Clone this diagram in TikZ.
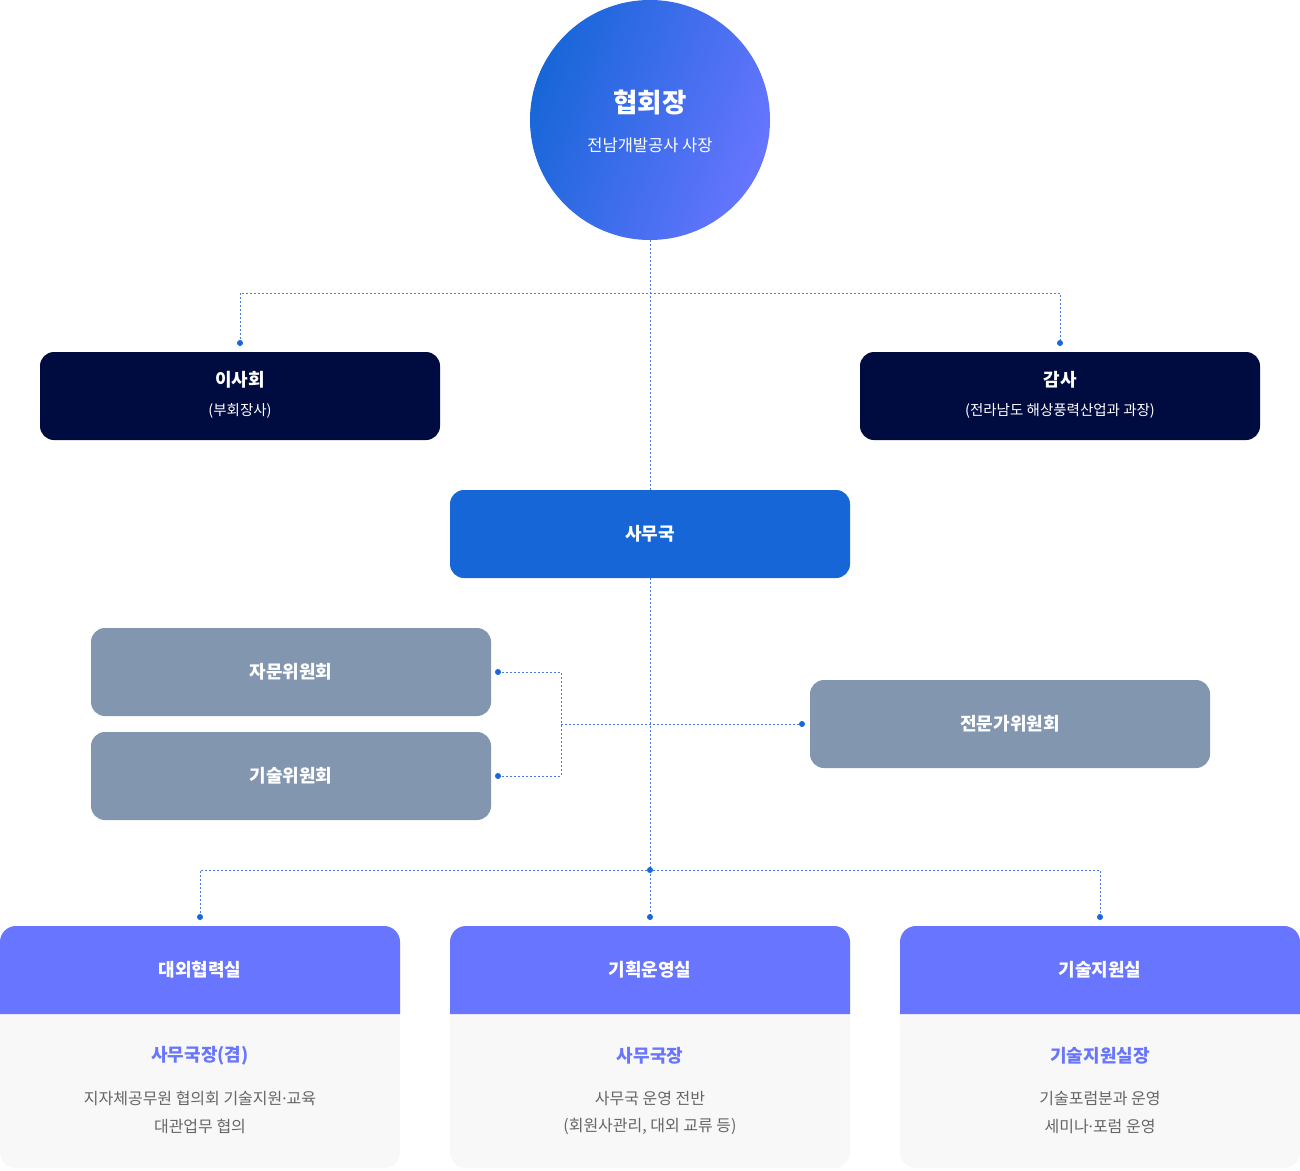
\documentclass[tikz,border=0pt]{standalone}
\usepackage{fontspec}
\setmainfont{Noto Sans CJK KR}
\newfontfamily\latinfont{Noto Sans}
\usepackage{xcolor}

\definecolor{navy}{HTML}{000C40}
\definecolor{royal}{HTML}{1766D8}
\definecolor{grayblue}{HTML}{8396B0}
\definecolor{violet}{HTML}{6775FF}
\definecolor{cardbg}{HTML}{F8F8F8}
\definecolor{linkblue}{HTML}{4A7BE6}
\definecolor{dotblue}{HTML}{1A66DA}
\definecolor{bodygray}{HTML}{666666}

\newcommand{\middot}{{\latinfont ·}}

\begin{document}
\begin{tikzpicture}[x=1pt, y=-1pt,
        box/.style={rectangle, rounded corners=14, minimum width=400, minimum height=88, inner sep=0},
        link/.style={draw=linkblue, line width=1, dash pattern=on 2 off 2},
        tip/.style={fill=dotblue},
        big/.style={font=\fontsize{26.5}{30}\selectfont\bfseries, text=white},
        head/.style={font=\fontsize{18}{22}\selectfont\bfseries},
        small/.style={font=\fontsize{14.5}{18}\selectfont, text=white},
        body/.style={font=\fontsize{16}{20}\selectfont, text=bodygray}]

        \useasboundingbox (0,0) rectangle (1300,1170);
        \fill[white] (0,0) rectangle (1300,1170);

        % president
        \node[circle, minimum size=240, inner sep=0] (pres) at (650,120) {};
        \shade[left color=royal, right color=violet, shading angle=70] (pres.center) circle (120);
        \node[big] (presName) at (650,102) {협회장};
        \node[small, font=\fontsize{16.5}{20}\selectfont] (presSub) at (650,145) {전남개발공사 사장};

        % board and audit
        \node[box, fill=navy] (board) at (240,396) {};
        \node[head, text=white] (boardName) at (240,380) {이사회};
        \node[small] (boardSub) at (240,411) {(부회장사)};

        \node[box, fill=navy] (audit) at (1060,396) {};
        \node[head, text=white] (auditName) at (1060,380) {감사};
        \node[small] (auditSub) at (1060,411) {(전라남도 해상풍력산업과 과장)};

        % secretariat and committees
        \node[box, fill=royal, head, text=white] (office) at (650,534) {사무국};
        \node[box, fill=grayblue, head, text=white] (advisory) at (291,672) {자문위원회};
        \node[box, fill=grayblue, head, text=white] (techcom) at (291,776) {기술위원회};
        \node[box, fill=grayblue, head, text=white] (experts) at (1010,724) {전문가위원회};

        % departments
        \begin{scope}[every node/.style={rectangle, rounded corners=16, minimum width=400, minimum height=242, inner sep=0, fill=cardbg}]
            \node (extCard) at (200,1047) {};
            \node (planCard) at (650,1047) {};
            \node (supCard) at (1100,1047) {};
        \end{scope}
        \fill[violet] (0,1014) [rounded corners=16] -- (0,926) -- (400,926) [sharp corners] -- (400,1014) -- cycle;
        \fill[violet] (450,1014) [rounded corners=16] -- (450,926) -- (850,926) [sharp corners] -- (850,1014) -- cycle;
        \fill[violet] (900,1014) [rounded corners=16] -- (900,926) -- (1300,926) [sharp corners] -- (1300,1014) -- cycle;

        \node[head, text=white] (extName) at (200,970) {대외협력실};
        \node[head, text=violet] (extHead) at (200,1056) {사무국장(겸)};
        \node[body] (extJob1) at (200,1098) {지자체공무원 협의회 기술지원\middot 교육};
        \node[body] (extJob2) at (200,1126) {대관업무 협의};

        \node[head, text=white] (planName) at (650,970) {기획운영실};
        \node[head, text=violet] (planHead) at (650,1056) {사무국장};
        \node[body] (planJob1) at (650,1098) {사무국 운영 전반};
        \node[body] (planJob2) at (650,1126) {(회원사관리, 대외 교류 등)};

        \node[head, text=white] (supName) at (1100,970) {기술지원실};
        \node[head, text=violet] (supHead) at (1100,1056) {기술지원실장};
        \node[body] (supJob1) at (1100,1098) {기술포럼분과 운영};
        \node[body] (supJob2) at (1100,1126) {세미나\middot 포럼 운영};

        % connectors
        \coordinate (split1) at (650,293);
        \coordinate (boardIn) at (240,343);
        \coordinate (auditIn) at (1060,343);
        \coordinate (advIn) at (498,672);
        \coordinate (techIn) at (498,776);
        \coordinate (brace) at (561,724);
        \coordinate (expIn) at (802,724);
        \coordinate (split2) at (650,870);
        \coordinate (extIn) at (200,917);
        \coordinate (planIn) at (650,917);
        \coordinate (supIn) at (1100,917);

        \draw[link] (pres.south) -- (office.north);
        \draw[link] (boardIn) |- (split1) -| (auditIn);
        \draw[link] (advIn) -| (brace) |- (techIn);
        \draw[link] (brace) -- (expIn);
        \draw[link] (office.south) -- (planIn);
        \draw[link] (extIn) |- (split2) -| (supIn);

        \foreach \p in {boardIn, auditIn, advIn, techIn, expIn, split2, extIn, planIn, supIn}
            \fill[tip] (\p) circle (3);
    \end{tikzpicture}
\end{document}
